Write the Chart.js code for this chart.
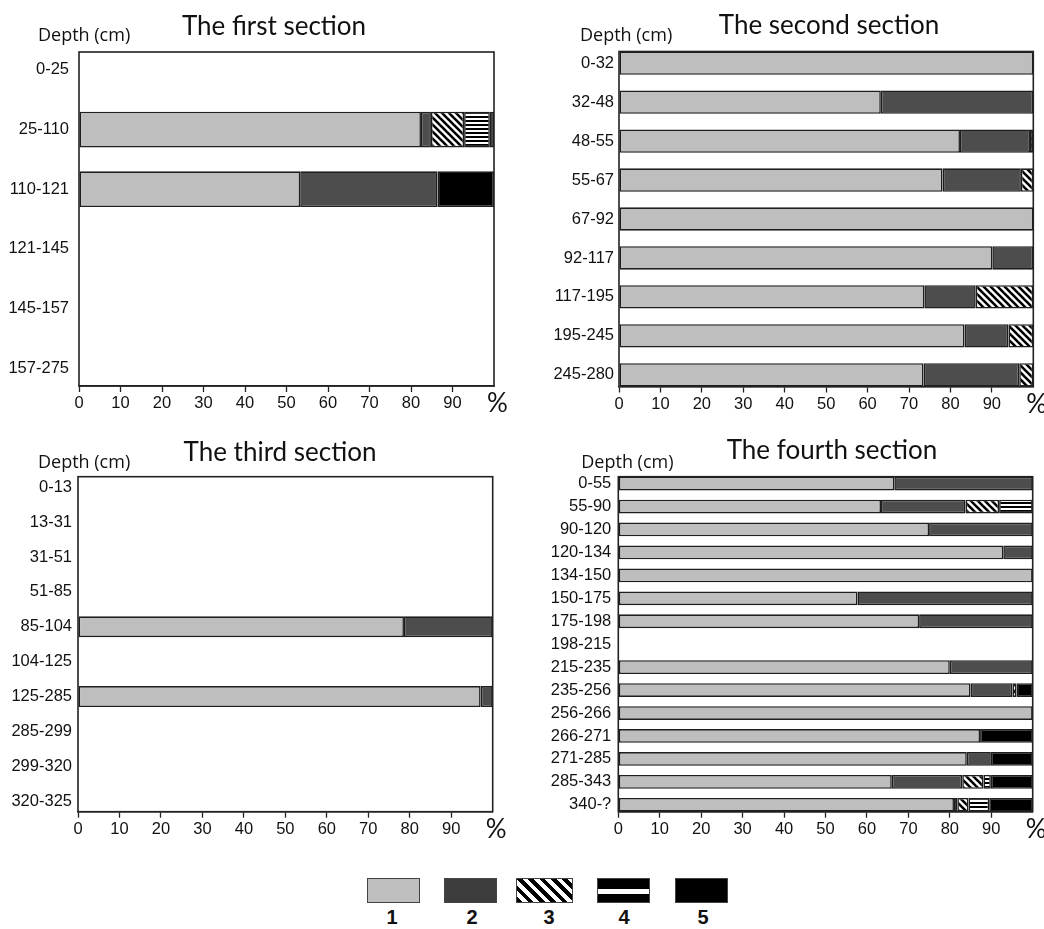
<!DOCTYPE html>
<html>
<head>
<meta charset="utf-8">
<script src="https://cdn.jsdelivr.net/npm/chart.js@4/dist/chart.umd.min.js"></script>
<style>
  html, body { margin: 0; padding: 0; background: #fff; }
  #page { position: relative; width: 1044px; height: 929px; overflow: hidden; }
  #page canvas { position: absolute; }
  .leg-box { position: absolute; top: 878px; height: 25px; box-sizing: border-box; border: 1.5px solid #444; }
  .leg-num { position: absolute; top: 906px; width: 40px; text-align: center;
             font: bold 20px "Liberation Sans", Arial, sans-serif; color: #111; }
</style>
</head>
<body>
<div id="page">
  <canvas id="c1" width="522" height="430" style="left:0;top:0"></canvas>
  <canvas id="c2" width="522" height="430" style="left:522px;top:0"></canvas>
  <canvas id="c3" width="522" height="430" style="left:0;top:430px"></canvas>
  <canvas id="c4" width="522" height="430" style="left:522px;top:430px"></canvas>

  <div class="leg-box" style="left:367px;width:53px;background:#bebebe"></div>
  <div class="leg-box" style="left:444px;width:53px;background:#3d3d3d"></div>
  <div class="leg-box" style="left:516px;width:57px;background:repeating-linear-gradient(45deg,#000 0 4px,#fff 4px 8px)"></div>
  <div class="leg-box" style="left:597px;width:53px;background:linear-gradient(#000 0 10px,#fff 10px 15px,#000 15px)"></div>
  <div class="leg-box" style="left:675px;width:53px;background:#000"></div>
  <div class="leg-num" style="left:372px">1</div>
  <div class="leg-num" style="left:452px">2</div>
  <div class="leg-num" style="left:529px">3</div>
  <div class="leg-num" style="left:604px">4</div>
  <div class="leg-num" style="left:683px">5</div>
</div>

<script>
// ===== DADOS =====
const xTicks = [0, 10, 20, 30, 40, 50, 60, 70, 80, 90];

// The first section
const s1Labels = ["0-25", "25-110", "110-121", "121-145", "145-157", "157-275"];
const s1Type1 = [null, 82.4, 53.3, null, null, null];
const s1Type2 = [null, 2.4, 33.1, null, null, null];
const s1Type3 = [null, 8.0, null, null, null, null];
const s1Type4 = [null, 6.2, null, null, null, null];
const s1Type5 = [null, 1.0, 13.6, null, null, null];

// The second section
const s2Labels = ["0-32", "32-48", "48-55", "55-67", "67-92", "92-117", "117-195", "195-245", "245-280"];
const s2Type1 = [100, 63.2, 82.3, 78.1, 100, 90.1, 73.7, 83.4, 73.5];
const s2Type2 = [null, 36.8, 16.9, 18.9, null, 9.9, 12.4, 10.6, 23.1];
const s2Type3 = [null, null, 0.8, 3.0, null, null, 13.9, 6.0, 3.4];
const s2Type4 = [null, null, null, null, null, null, null, null, null];
const s2Type5 = [null, null, null, null, null, null, null, null, null];

// The third section
const s3Labels = ["0-13", "13-31", "31-51", "51-85", "85-104", "104-125", "125-285", "285-299", "299-320", "320-325"];
const s3Type1 = [null, null, null, null, 78.6, null, 97.1, null, null, null];
const s3Type2 = [null, null, null, null, 21.4, null, 2.9, null, null, null];
const s3Type3 = [null, null, null, null, null, null, null, null, null, null];
const s3Type4 = [null, null, null, null, null, null, null, null, null, null];
const s3Type5 = [null, null, null, null, null, null, null, null, null, null];

// The fourth section
const s4Labels = ["0-55", "55-90", "90-120", "120-134", "134-150", "150-175", "175-198", "198-215",
                  "215-235", "235-256", "256-266", "266-271", "271-285", "285-343", "340-?"];
const s4Type1 = [66.6, 63.4, 75.0, 92.9, 100, 57.7, 72.6, null, 80.0, 85.0, 100, 87.3, 84.1, 66.0, 81.0];
const s4Type2 = [33.4, 20.4, 25.0, 7.1, null, 42.3, 27.4, null, 20.0, 10.1, null, null, 5.8, 17.0, 0.8];
const s4Type3 = [null, 8.1, null, null, null, null, null, null, null, 1.0, null, null, null, 5.1, 2.7];
const s4Type4 = [null, 8.1, null, null, null, null, null, null, null, null, null, null, null, 1.8, 5.0];
const s4Type5 = [null, null, null, null, null, null, null, null, null, 3.9, null, 12.7, 10.1, 10.1, 10.5];

// ===== PADRÕES =====
function padraoDiagonal() {
  const t = document.createElement("canvas");
  t.width = 7; t.height = 7;
  const c = t.getContext("2d");
  c.fillStyle = "#fff";
  c.fillRect(0, 0, 7, 7);
  c.strokeStyle = "#000";
  c.lineWidth = 2.6;
  [-7, 0, 7].forEach(o => {
    c.beginPath();
    c.moveTo(o - 1, -1);
    c.lineTo(o + 8, 8);
    c.stroke();
  });
  return c.createPattern(t, "repeat");
}

function padraoHorizontal() {
  const t = document.createElement("canvas");
  t.width = 4; t.height = 4;
  const c = t.getContext("2d");
  c.fillStyle = "#fff";
  c.fillRect(0, 0, 4, 4);
  c.fillStyle = "#000";
  c.fillRect(0, 0, 4, 2);
  return c.createPattern(t, "repeat");
}

const cores = ["#bebebe", "#4d4d4d", padraoDiagonal(), padraoHorizontal(), "#000"];

// ===== TEXTOS E MOLDURA =====
const textoSecao = {
  id: "textoSecao",
  afterDraw(chart, args, o) {
    const { ctx, chartArea: a } = chart;
    ctx.save();
    ctx.strokeStyle = "#222";
    ctx.lineWidth = 1.6;
    ctx.strokeRect(a.left, a.top, a.right - a.left, a.bottom - a.top);

    ctx.fillStyle = "#111";
    ctx.textBaseline = "alphabetic";
    ctx.textAlign = "center";
    ctx.font = "26px Lato";
    ctx.fillText(o.title, o.titleX, o.titleY);

    ctx.textAlign = "left";
    ctx.font = "18px 'Open Sans'";
    ctx.fillText("Depth (cm)", a.left - o.depthDx, a.top - o.depthDy);

    ctx.font = "26px Lato";
    ctx.fillText("%", a.right - 7, a.bottom + 26);
    ctx.restore();
  }
};

// ===== GRÁFICO =====
function criarGrafico(id, labels, series, lay) {
  const datasets = series.map((valores, k) => ({
    label: String(k + 1),
    data: valores.map((v, i) => ({ x: v, y: i })),
    backgroundColor: cores[k],
    borderColor: "#1e1e1e",
    borderWidth: 1.6,
    borderSkipped: false,
    categoryPercentage: 1,
    barPercentage: 0.6,
  }));

  new Chart(document.getElementById(id), {
    type: "bar",
    data: { datasets },
    plugins: [textoSecao],
    options: {
      indexAxis: "y",
      responsive: false,
      animation: false,
      layout: { padding: { left: 0, top: lay.top, right: lay.right, bottom: 0 } },
      plugins: {
        legend: { display: false },
        tooltip: { enabled: false },
        textoSecao: lay,
      },
      scales: {
        x: {
          type: "linear",
          stacked: true,
          min: 0,
          max: 100,
          afterFit: s => { s.height = lay.xH; },
          afterBuildTicks: s => { s.ticks = xTicks.map(v => ({ value: v })); },
          ticks: {
            autoSkip: false,
            maxRotation: 0,
            padding: 2,
            color: "#111",
            font: { family: "'Liberation Sans', Arial, sans-serif", size: 16.5 },
          },
          grid: { drawOnChartArea: false, drawTicks: true, tickLength: 6, tickColor: "#222", tickWidth: 1.3 },
          border: { display: true, color: "#222", width: 1.5 },
        },
        y: {
          type: "linear",
          stacked: true,
          reverse: true,
          offset: false,
          min: -0.3,
          max: labels.length - 0.7,
          afterFit: s => { s.width = lay.axisW; },
          afterBuildTicks: s => { s.ticks = labels.map((_, i) => ({ value: i })); },
          ticks: {
            autoSkip: false,
            padding: lay.yPad,
            color: "#111",
            font: { family: "'Liberation Sans', Arial, sans-serif", size: 16.5 },
            callback: v => labels[v],
          },
          grid: { display: false, drawTicks: false, offset: false },
          border: { display: false },
        },
      },
    },
  });
}

criarGrafico("c1", s1Labels, [s1Type1, s1Type2, s1Type3, s1Type4, s1Type5],
  { title: "The first section", titleX: 274, titleY: 35, depthDx: 41, depthDy: 11,
    axisW: 79, top: 52, right: 28, xH: 44, yPad: 10 });

criarGrafico("c2", s2Labels, [s2Type1, s2Type2, s2Type3, s2Type4, s2Type5],
  { title: "The second section", titleX: 307, titleY: 33.5, depthDx: 39, depthDy: 11,
    axisW: 97, top: 51.5, right: 10.7, xH: 43.5, yPad: 5 });

criarGrafico("c3", s3Labels, [s3Type1, s3Type2, s3Type3, s3Type4, s3Type5],
  { title: "The third section", titleX: 280, titleY: 31, depthDx: 40, depthDy: 8.5,
    axisW: 78, top: 46.7, right: 29.3, xH: 48.3, yPad: 6 });

criarGrafico("c4", s4Labels, [s4Type1, s4Type2, s4Type3, s4Type4, s4Type5],
  { title: "The fourth section", titleX: 310, titleY: 29.3, depthDx: 37, depthDy: 9,
    axisW: 96.3, top: 46.7, right: 11.3, xH: 48.3, yPad: 7 });
</script>
</body>
</html>
